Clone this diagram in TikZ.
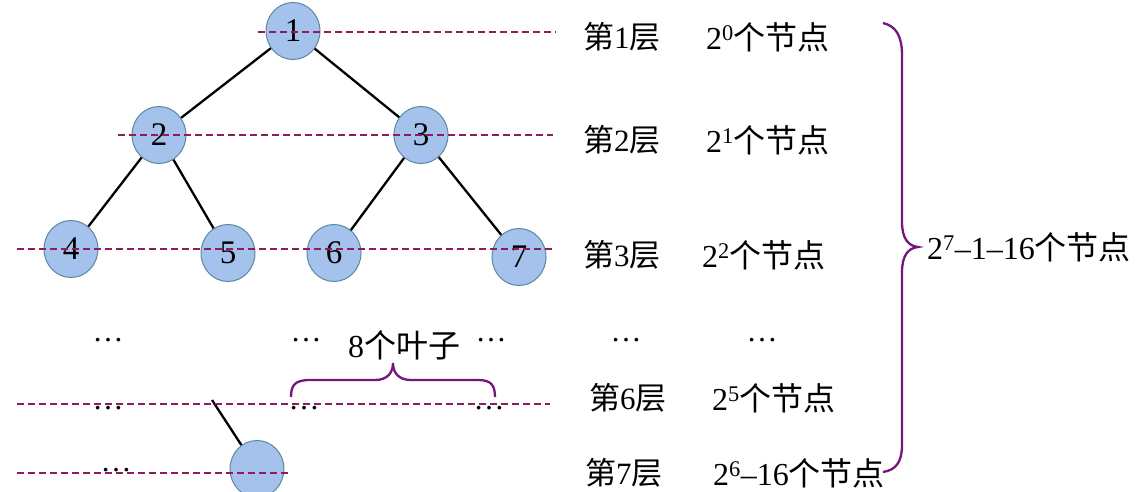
\documentclass[tikz,border=0pt]{standalone}
\usepackage{fontspec}
\setmainfont{Liberation Serif}
\newfontfamily\cjk{Noto Sans CJK SC}
\usetikzlibrary{shapes.geometric}
\newcommand\zh[1]{{\cjk #1}}
\definecolor{nodefill}{RGB}{164,194,236}
\definecolor{nodeline}{RGB}{90,138,160}
\definecolor{dashc}{RGB}{140,30,95}
\definecolor{bracec}{RGB}{118,22,125}
\tikzset{
  tnode/.style={ellipse, draw=nodeline, fill=nodefill, line width=1pt,
     minimum width=54pt, minimum height=57pt, inner sep=0pt,
     font=\fontsize{33}{35}\selectfont},
  edge/.style={line width=2.3pt, black},
  level/.style={dashc, line width=2.3pt, dash pattern=on 7pt off 4pt},
  lbl/.style={inner sep=0pt, font=\fontsize{31}{34}\selectfont},
  big/.style={inner sep=0pt, font=\fontsize{32}{34}\selectfont},
  bracel/.style={bracec, line width=2.3pt}
}
\begin{document}
\begin{tikzpicture}[x=1pt,y=-1pt]
\useasboundingbox[fill=white] (0,0) rectangle (1136,491);
% tree nodes
\node[tnode] (n1) at (293,31) {1};
\node[tnode] (n2) at (159,135) {2};
\node[tnode] (n3) at (421,135) {3};
\node[tnode] (n4) at (71,249) {4};
\node[tnode] (n5) at (228,253) {5};
\node[tnode] (n6) at (334,253) {6};
\node[tnode] (n7) at (519,257) {7};
\node[tnode] (n8) at (257,469) {};
\coordinate (e6) at (212,400);
% edges
\draw[edge] (n1) -- (n2);
\draw[edge] (n1) -- (n3);
\draw[edge] (n2) -- (n4);
\draw[edge] (n2) -- (n5);
\draw[edge] (n3) -- (n6);
\draw[edge] (n3) -- (n7);
\draw[edge] (e6) -- (n8);
% dots
\node[lbl] (d1) at (108,340) {\dots};
\node[lbl] (d2) at (306,340) {\dots};
\node[lbl] (d3) at (491,340) {\dots};
\node[lbl] (d4) at (108,408) {\dots};
\node[lbl] (d5) at (304,408) {\dots};
\node[lbl] (d6) at (489,408) {\dots};
\node[lbl] (d7) at (116,470) {\dots};
\node[big] (leaf) at (404,345) {8\zh{个叶子}};
% level lines
\coordinate (a1) at (258,32);  \coordinate (b1) at (556,32);
\coordinate (a2) at (118,135); \coordinate (b2) at (553,135);
\coordinate (a3) at (17,249);  \coordinate (b3) at (553,249);
\coordinate (a6) at (17,404);  \coordinate (b6) at (550,404);
\coordinate (a7) at (17,473);  \coordinate (b7) at (290,473);
\draw[level] (a1) -- (b1);
\draw[level] (a2) -- (b2);
\draw[level] (a3) -- (b3);
\draw[level] (a6) -- (b6);
\draw[level] (a7) -- (b7);
% small brace
\draw[bracel] (291,397) .. controls (291,385) and (295,380) .. (310,380)
  -- (375,380) .. controls (388,380) and (393,372) .. (393,363)
  .. controls (393,372) and (398,380) .. (411,380)
  -- (478,380) .. controls (491,380) and (495,385) .. (495,397);
% right labels
\node[lbl, anchor=west] (l1) at (583,37) {\zh{第}1\zh{层}};
\node[big, anchor=west] (c1) at (706,37) {2\textsuperscript{0}\zh{个节点}};
\node[lbl, anchor=west] (l2) at (583,140) {\zh{第}2\zh{层}};
\node[big, anchor=west] (c2) at (706,140) {2\textsuperscript{1}\zh{个节点}};
\node[lbl, anchor=west] (l3) at (583,255) {\zh{第}3\zh{层}};
\node[big, anchor=west] (c3) at (702,255) {2\textsuperscript{2}\zh{个节点}};
\node[lbl] (ld) at (626,340) {\dots};
\node[lbl] (cd) at (762,340) {\dots};
\node[lbl, anchor=west] (l6) at (589,398) {\zh{第}6\zh{层}};
\node[big, anchor=west] (c6) at (712,398) {2\textsuperscript{5}\zh{个节点}};
\node[lbl, anchor=west] (l7) at (585,473) {\zh{第}7\zh{层}};
\node[big, anchor=west] (c7) at (713,473) {2\textsuperscript{6}--16\zh{个节点}};
\node[big, anchor=west] (tot) at (927,247) {2\textsuperscript{7}--1--16\zh{个节点}};
% big brace
\draw[bracel] (883,23) .. controls (896,26) and (902,36) .. (902,55)
  -- (902,222) .. controls (902,238) and (908,246) .. (918,247)
  .. controls (908,248) and (902,256) .. (902,272)
  -- (902,445) .. controls (902,462) and (896,470) .. (883,472);
\end{tikzpicture}
\end{document}
